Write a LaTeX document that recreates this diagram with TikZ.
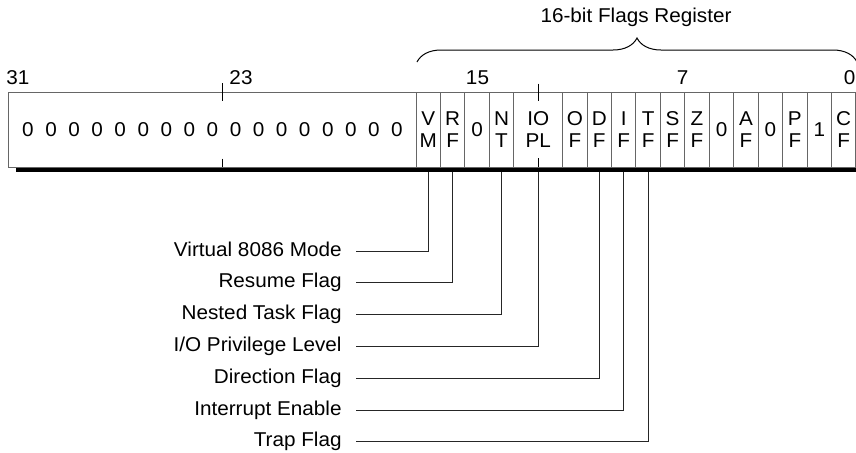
\documentclass[tikz,border=0pt]{standalone}
\usepackage{fontspec}
\setmainfont{Liberation Sans}[FakeStretch=1.035]
\usetikzlibrary{decorations.pathreplacing}

\begin{document}
\begin{tikzpicture}[
  x=0.5pt, y=-0.5pt,
  font=\fontsize{10}{11}\selectfont,
  boxline/.style={draw=black!60, line width=0.5pt},
  cell/.style={boxline, rectangle, inner sep=0pt, outer sep=0pt, align=center,
    minimum height=37.25pt},
  flaglabel/.style={anchor=east, inner xsep=7pt, inner ysep=0pt,
    text height=7pt, text depth=2pt},
  leader/.style={draw=black!85, line width=0.5pt},
  tickmark/.style={draw=black, line width=0.5pt},
]
  \useasboundingbox (0,0) rectangle (856,452);

  \coordinate (TL) at (8,92.5);
  \coordinate (BR) at (855.5,167);
  \coordinate (BL) at (417,62);
  \coordinate (BE) at (857,62);

  \fill (15.5,167) rectangle (862,171.5);
  \draw[boxline] (TL) rectangle (BR);

  \foreach \i in {0,...,16}
    \node (z\i) at ({28+\i*23.06},130) {0};

  \foreach \name/\k/\w/\txt in {vm/0/1/{V\\M}, rf/1/1/{R\\F}, b15/2/1/0,
      nt/3/1/{N\\T}, iopl/4/2/{IO\\PL}, of/6/1/{O\\F}, df/7/1/{D\\F},
      ief/8/1/{I\\F}, tf/9/1/{T\\F}, sf/10/1/{S\\F}, zf/11/1/{Z\\F},
      b5/12/1/0, af/13/1/{A\\F}, b3/14/1/0, pf/15/1/{P\\F}, b1/16/1/1,
      cf/17/1/{C\\F}}
    \node[cell, minimum width=\w*12.22pt] (f-\name)
      at ({416+(\k+\w/2)*24.44},129.75) {\txt};

  \draw[tickmark] (222,83) -- (222,100.5);
  \draw[tickmark] (222,158.5) -- (222,167);
  \draw[tickmark] (f-iopl.north) ++(0,-9) -- ++(0,17.5);
  \draw[tickmark] (f-iopl.south) ++(0,-9) -- (f-iopl.south);

  \node[anchor=base] (n31) at (18,84) {31};
  \node[anchor=base] (n23) at (241,84) {23};
  \node[anchor=base] (n15) at (477.5,84) {15};
  \node[anchor=base] (n7) at (682.5,84) {7};
  \node[anchor=base, inner xsep=0pt] (n0) at (849.5,84) {0};

  \draw[line width=0.5pt, decorate, decoration={brace, amplitude=12pt}] (BL) -- (BE);
  \node[anchor=base] (title) at (636,22.5) {16-bit Flags Register};

  \foreach \cell/\txt [count=\i from 0] in {vm/Virtual 8086 Mode, rf/Resume Flag,
      nt/Nested Task Flag, iopl/{I/O Privilege Level}, df/Direction Flag,
      ief/Interrupt Enable, tf/Trap Flag}
  {
    \node[flaglabel] (l-\cell) at (356,{251+\i*31.8}) {\txt};
    \draw[leader] ([yshift=-2.5pt]f-\cell.south) |- (l-\cell.east);
  }
\end{tikzpicture}
\end{document}
